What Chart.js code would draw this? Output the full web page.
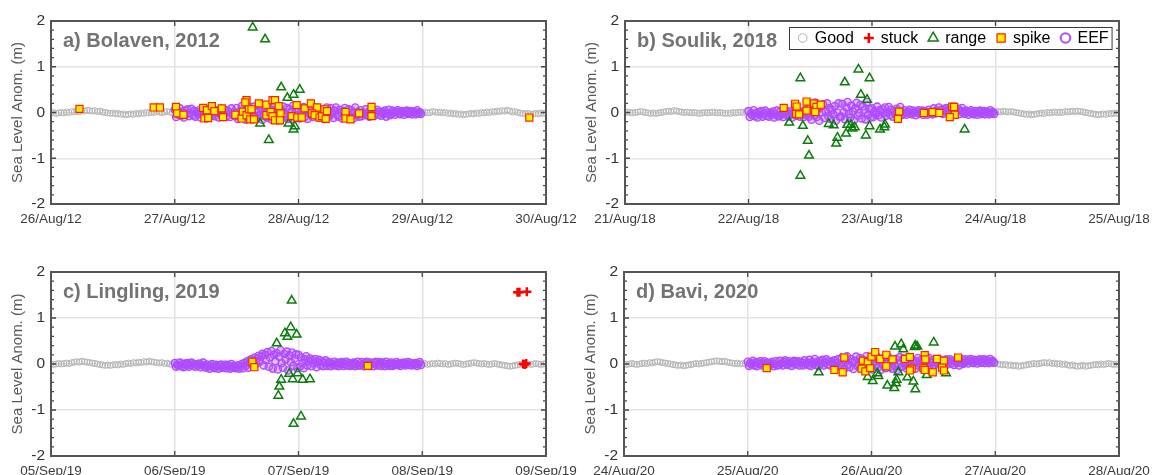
<!DOCTYPE html>
<html>
<head>
<meta charset="utf-8">
<title>Sea level anomaly QC flags</title>
<script src="https://cdn.jsdelivr.net/npm/chart.js@4.4.1/dist/chart.umd.min.js"></script>
<style>
  html, body { margin: 0; padding: 0; background: #fff; }
  body { width: 1156px; height: 475px; position: relative; overflow: hidden; }
  canvas { position: absolute; }
</style>
</head>
<body>
<canvas id="panelA" width="578" height="238" style="left:0;top:0"></canvas>
<canvas id="panelB" width="578" height="238" style="left:578px;top:0"></canvas>
<canvas id="panelC" width="578" height="237" style="left:0;top:238px"></canvas>
<canvas id="panelD" width="578" height="237" style="left:578px;top:238px"></canvas>
<script>
// sampling steps (days); series values typed in cm
var stepGood = 1 / 48;
var stepEEF = 1 / 96;

// tick labels
var ticksA = ['26/Aug/12', '27/Aug/12', '28/Aug/12', '29/Aug/12', '30/Aug/12'];
var ticksB = ['21/Aug/18', '22/Aug/18', '23/Aug/18', '24/Aug/18', '25/Aug/18'];
var ticksC = ['05/Sep/19', '06/Sep/19', '07/Sep/19', '08/Sep/19', '09/Sep/19'];
var ticksD = ['24/Aug/20', '25/Aug/20', '26/Aug/20', '27/Aug/20', '28/Aug/20'];
var yTicks = [-2, -1, 0, 1, 2];

// a) Bolaven 2012 -- good: day 0-1 and 3-4, EEF: day 1-3 (cm)
var goodA1 = [-1,0,-2,-1,0,-1,1,0,2,1,3,2, 4,3,5,4,3,4,2,3,1,0,-1,-2,
  -1,-3,-2,-4,-3,-5,-4,-3,-4,-2,-3,-1, -2,0,-1,1,0,2,1,0,1,2,1,0];
var eefA = [6,-10,0,-5,9,-7,2,-11,4,-3,7,-8, -1,8,-6,3,-9,1,-4,5,-11,-2,8,-7,
  -7,7,-2,-10,3,9,-4,-8,5,-1,-11,2, 8,-6,-3,6,-9,4,0,-10,9,-5,1,-8,
  10,-14,1,-7,14,-10,4,-16,7,-4,11,-11, -1,13,-8,5,-13,2,-5,8,-16,-3,13,-10,
  -11,12,-3,-15,5,15,-6,-12,9,-1,-17,4, 13,-9,-4,10,-14,7,1,-15,15,-7,2,-12,
  8,-13,0,-6,12,-9,3,-14,6,-4,9,-10, -1,11,-7,4,-11,2,-5,7,-14,-2,11,-9,
  -8,9,-2,-12,4,11,-5,-9,6,-1,-13,3, 10,-7,-3,7,-11,5,0,-12,11,-6,1,-9,
  5,-8,0,-4,7,-6,1,-9,3,-3,5,-7, -1,6,-5,2,-7,1,-3,4,-9,-2,6,-6,
  -3,4,0,-5,2,5,-2,-4,3,0,-5,2, 4,-3,-1,3,-4,2,1,-4,5,-2,1,-3];
var goodA2 = [0,1,-1,0,2,1,0,1,-1,0,-2,-1, -3,-2,-4,-3,-5,-4,-3,-2,-3,-1,-2,0,
  -1,1,0,2,1,3,2,4,3,5,3,1, 2,0,-1,-2,-3,-2,-4,-3,-2,-3,-1,-2, -1];
// [day, m]
var rangeA = [[1.63,1.86],[1.73,1.60],[1.86,0.55],[2.01,0.50],[1.96,0.39],[1.91,0.32],
  [1.69,-0.24],[1.76,-0.60],[1.92,-0.24],[1.97,-0.30],[1.96,-0.37]];
var spikeA = [[0.23,0.08],[0.83,0.11],[0.88,0.11],[1.01,0.12],[1.02,-0.02],[1.07,-0.05],
  [1.23,0.10],[1.26,0.05],[1.30,0.14],[1.32,0.03],[1.24,-0.13],[1.27,-0.12],[1.38,0.09],
  [1.39,-0.10],[1.49,-0.05],[1.54,-0.13],[1.55,0.02],[1.58,0.27],[1.57,0.22],[1.58,-0.06],
  [1.60,0.07],[1.61,-0.15],[1.62,0.07],[1.64,-0.15],[1.68,0.20],[1.74,0.17],[1.74,-0.06],
  [1.775,0.01],[1.79,0.27],[1.81,0.27],[1.79,-0.08],[1.81,-0.17],[1.84,0.14],[1.855,-0.02],
  [1.85,-0.17],[1.945,-0.08],[1.985,0.16],[1.99,-0.11],[2.026,-0.11],[2.05,0.09],[2.10,0.20],
  [2.15,0.11],[2.11,-0.02],[2.13,-0.06],[2.17,-0.11],[2.19,-0.08],[2.21,0.07],[2.23,0.03],
  [2.22,-0.14],[2.38,0.01],[2.38,-0.13],[2.42,-0.15],[2.49,-0.02],[2.59,0.12],[2.59,-0.08],
  [3.865,-0.11]];
var stuckA = [];

// b) Soulik 2018
var goodB1 = [0,1,0,-1,0,1,2,1,0,-1,-2,-1, -2,-1,0,1,2,3,2,4,3,2,1,0,
  1,0,-1,0,-1,-2,-1,0,-1,0,1,0, -1,0,-1,-2,-1,-2,0,-1,0,1,0,2];
var eefB = [3,-10,-2,-6,5,-8,-1,-11,1,-5,3,-9, -3,4,-7,0,-9,-1,-5,2,-11,-4,4,-8,
  -8,3,-4,-10,0,5,-5,-9,2,-3,-11,-1, 4,-7,-5,3,-9,1,-2,-10,5,-6,-1,-9,
  16,-16,4,-6,22,-10,8,-18,12,0,18,-12, 2,20,-8,10,-14,6,-4,14,-18,0,20,-10,
  -9,19,1,-15,11,23,-3,-11,15,3,-17,9, 21,-7,-1,17,-13,13,5,-15,23,-5,7,-11,
  9,-10,2,-4,13,-6,5,-11,7,-1,11,-7, 1,12,-5,6,-9,3,-3,8,-11,0,12,-6,
  -4,5,-1,-5,2,6,-2,-4,4,0,-6,2, 5,-3,-1,4,-5,3,1,-5,6,-2,1,-4,
  9,-2,5,1,11,0,6,-3,8,3,10,-1, 4,10,1,7,-2,5,2,8,-3,3,10,0,
  -3,4,0,-5,2,5,-2,-4,3,0,-5,2, 4,-3,-1,3,-4,2,1,-4,5,-2,1,-3];
var goodB2 = [1,2,1,3,2,1,2,1,0,-1,-2,-3, -4,-3,-5,-4,-3,-2,-1,-2,0,-1,0,1,
  0,1,0,2,1,2,3,2,3,2,1,0, -1,-2,-3,-4,-5,-4,-3,-4,-2,-3,-1,-2, -1];
var rangeB = [[1.42,0.75],[1.33,-0.22],[1.44,-0.29],[1.48,-0.62],[1.49,-0.94],[1.42,-1.38],
  [1.78,0.66],[1.89,0.94],[1.98,0.75],[1.91,0.39],[1.96,0.28],[1.65,-0.25],[1.69,-0.28],
  [1.72,-0.55],[1.71,-0.68],[1.79,-0.46],[1.80,-0.27],[1.86,-0.32],[1.84,-0.35],[1.83,-0.27],
  [1.95,-0.50],[1.98,-0.30],[2.065,-0.37],[2.10,-0.32],[2.105,-0.26],[2.75,-0.37]];
var spikeB = [[1.285,0.10],[1.377,0.19],[1.39,0.13],[1.385,-0.03],[1.41,-0.04],[1.47,0.24],
  [1.47,0.04],[1.53,0.20],[1.55,0.12],[1.585,0.17],[1.54,0.01],[2.22,0.02],[2.21,-0.14],
  [2.42,-0.01],[2.49,0.01],[2.545,-0.01],[2.65,0.13],[2.665,0.12],[2.67,-0.05],[2.63,-0.10]];
var stuckB = [];

// c) Lingling 2019
var goodC1 = [0,-1,0,1,0,1,2,1,3,4,5,4, 6,5,4,3,2,1,0,-1,-2,-3,-2,-3,
  -2,-1,-2,0,-1,1,2,1,3,2,4,3, 5,4,6,5,4,3,2,3,1,2,0,-1];
var eefC = [2,-6,-1,-4,3,-5,0,-7,1,-3,2,-6, -2,3,-4,0,-6,-1,-3,1,-7,-2,3,-5,
  -8,-1,-5,-10,-3,0,-7,-9,-2,-5,-10,-3, -1,-8,-6,-2,-9,-2,-4,-10,0,-7,-4,-9,
  -8,-3,-10,-5,0,-9,2,-4,6,-8,3,10, -2,8,14,0,12,18,5,16,22,-3,20,9,
  26,-6,14,28,-10,20,6,24,-12,16,30,2, -8,22,10,27,-14,18,4,25,-4,12,21,-9,
  20,-6,14,2,-9,10,17,-3,6,12,-5,8, 1,11,-7,4,9,-2,6,-5,3,8,-4,2,
  4,-5,1,-2,5,-3,2,-5,3,-1,4,-4, 0,5,-3,2,-4,1,-2,3,-5,-1,5,-3,
  -3,4,0,-5,2,5,-2,-4,3,0,-5,2, 5,-3,-1,4,-4,3,1,-5,5,-2,1,-4,
  3,-4,0,-2,4,-2,1,-4,2,-1,3,-3, 0,4,-2,2,-3,1,-1,2,-4,0,4,-2];
var goodC2 = [0,1,-1,0,1,0,2,1,0,1,-1,0, 1,2,1,0,-1,0,1,2,3,2,1,0,
  1,0,-1,0,1,0,-1,-2,-3,-4,-5,-4, -3,-2,-1,0,1,0,-1,0,1,0,-1,0, 1];
var rangeC = [[1.945,1.38],[1.937,0.80],[1.89,0.67],[1.91,0.59],[1.985,0.64],[1.824,0.45],
  [1.925,-0.21],[1.993,-0.20],[1.86,-0.34],[1.845,-0.49],[1.837,-0.69],[1.953,-0.33],
  [2.034,-0.34],[2.093,-0.33],[2.02,-1.14],[1.96,-1.30]];
var spikeC = [[1.627,0.05],[1.643,-0.07],[2.56,-0.04]];
var stuckC = [[3.77,1.56],[3.785,1.56],[3.845,1.57],[3.815,0.0],[3.83,-0.01],[3.84,0.01]];

// d) Bavi 2020
var goodD1 = [0,-1,0,1,0,-1,0,1,2,1,3,2, 4,5,4,3,2,1,0,-1,-2,-3,-2,-4,
  -3,-2,-1,0,1,0,1,2,3,4,5,6, 7,6,5,6,4,3,2,1,2,0,1,0];
var eefD = [5,-4,2,-1,7,-3,3,-5,4,0,6,-3, 1,6,-2,3,-4,2,-1,5,-5,0,6,-3,
  -2,7,1,-3,4,8,0,-2,6,2,-4,4, 7,-1,1,6,-3,5,3,-3,8,0,3,-2,
  9,-4,4,0,11,-2,5,-5,7,1,9,-3, 3,10,-1,6,-3,5,1,8,-5,2,10,-2,
  -5,14,2,-10,9,17,-1,-7,11,3,-11,7, 16,-4,0,13,-8,10,4,-10,17,-3,6,-7,
  12,-12,4,-4,17,-7,6,-13,10,-1,14,-9, 2,15,-6,8,-10,5,-3,11,-13,0,15,-7,
  -5,12,1,-9,7,14,-2,-6,9,2,-10,6, 13,-4,0,10,-8,8,3,-9,14,-3,4,-6,
  9,-2,5,1,11,0,6,-3,8,3,10,-1, 4,10,1,7,-2,5,2,8,-3,3,10,0,
  3,10,6,1,8,11,4,2,9,6,1,8, 10,3,5,10,2,9,7,2,11,4,7,3];
var goodD2 = [1,0,-1,-2,-1,-3,-2,-4,-3,-5,-4,-3, -2,-1,0,1,0,1,2,3,2,3,1,2,
  0,1,-1,0,-2,-3,-2,-4,-5,-4,-3,-5, -4,-3,-2,-1,-2,0,-1,0,1,0,-1,0, -1];
var rangeD = [[1.573,-0.18],[2.503,0.47],[2.19,0.38],[2.24,0.43],[2.257,0.32],[2.354,0.40],
  [2.37,0.38],[2.35,0.37],[1.97,-0.28],[2.01,-0.37],[2.047,-0.20],[2.055,-0.26],[2.217,-0.18],
  [2.128,-0.47],[2.184,-0.52],[2.198,-0.42],[2.203,-0.34],[2.29,-0.29],[2.338,-0.38],
  [2.354,-0.55],[2.446,-0.24],[2.602,-0.20]];
var spikeD = [[1.153,-0.09],[1.70,-0.13],[1.767,-0.18],[1.78,0.14],[1.93,0.07],[1.97,0.04],
  [2.0,0.16],[2.03,0.26],[2.07,0.11],[2.12,0.20],[2.17,0.10],[2.12,-0.05],[1.92,-0.10],
  [1.95,-0.16],[1.99,-0.09],[2.27,0.11],[2.31,0.15],[2.325,-0.10],[2.31,-0.14],[2.43,0.19],
  [2.435,0.10],[2.42,-0.09],[2.43,-0.13],[2.53,0.11],[2.585,0.07],[2.57,-0.08],[2.585,-0.14],
  [2.495,-0.18],[2.70,0.14]];
var stuckD = [];

var FONT = '"Liberation Sans", Arial, Helvetica, sans-serif';
Chart.defaults.font.family = FONT;

function series(vals, start, stp) {
  return vals.map(function (v, i) { return { x: start + i * stp, y: v / 100 }; });
}
function pts(list) {
  return list.map(function (p) { return { x: p[0], y: p[1] }; });
}

var styles = {
  Good:  { shape: 'circle',   r: 3,   fill: 'rgba(0,0,0,0)', line: '#b4b4b4', lw: 1 },
  stuck: { shape: 'cross',    r: 4.5, fill: 'rgba(0,0,0,0)', line: '#ff0000', lw: 2.5 },
  range: { shape: 'triangle', r: 5,   fill: 'rgba(0,0,0,0)', line: '#0b7d0b', lw: 1.5 },
  spike: { shape: 'rect',     r: 5,   fill: '#ffee00',       line: '#ff2200', lw: 1.2 },
  EEF:   { shape: 'circle',   r: 3.6, fill: 'rgba(176,76,255,0.35)', line: '#b04cff', lw: 1.4 }
};

function ds(label, data, order) {
  var s = styles[label];
  return {
    label: label, data: data, order: order,
    pointStyle: s.shape, pointRadius: s.r, pointHoverRadius: s.r,
    pointBackgroundColor: s.fill, pointBorderColor: s.line, pointBorderWidth: s.lw,
    backgroundColor: s.fill, borderColor: s.line, showLine: false
  };
}

// legend glyphs
function marker(ctx, shape, r, x, y) {
  ctx.beginPath();
  if (shape === 'circle') ctx.arc(x, y, r, 0, 2 * Math.PI);
  else if (shape === 'rect') { var h = r * Math.SQRT1_2; ctx.rect(x - h, y - h, 2 * h, 2 * h); }
  else if (shape === 'triangle') {
    ctx.moveTo(x, y - r); ctx.lineTo(x + r * 0.866, y + r / 2); ctx.lineTo(x - r * 0.866, y + r / 2); ctx.closePath();
  } else { ctx.moveTo(x - r, y); ctx.lineTo(x + r, y); ctx.moveTo(x, y - r); ctx.lineTo(x, y + r); }
  if (shape !== 'cross') ctx.fill();
  ctx.stroke();
}

function drawLegend(ctx, ca) {
  var items = [
    { label: 'Good',  r: 4.3, lw: 1 },
    { label: 'stuck', r: 5,   lw: 2.5 },
    { label: 'range', r: 5.8, lw: 1.5 },
    { label: 'spike', r: 5.8, lw: 1.2 },
    { label: 'EEF',   r: 4.8, lw: 2 }
  ];
  ctx.font = '16px ' + FONT;
  var left = ca.left + 164, top = ca.top + 6, h = 22;
  var cx = left + 13.7, pos = [];
  items.forEach(function (it) {
    var w = ctx.measureText(it.label).width;
    pos.push(cx);
    cx = cx + 12 + w + 15;
  });
  var right = cx - 15 + 3;
  ctx.fillStyle = '#fff';
  ctx.fillRect(left, top, right - left, h);
  ctx.strokeStyle = '#3a3a3a'; ctx.lineWidth = 1;
  ctx.strokeRect(left + 0.5, top + 0.5, right - left, h);
  var cy = top + h / 2;
  items.forEach(function (it, i) {
    var s = styles[it.label];
    ctx.fillStyle = it.label === 'EEF' ? '#fff' : s.fill;
    ctx.strokeStyle = s.line; ctx.lineWidth = it.lw;
    marker(ctx, s.shape, it.r, pos[i], cy);
    ctx.fillStyle = '#000'; ctx.textAlign = 'left'; ctx.textBaseline = 'middle';
    ctx.fillText(it.label, pos[i] + 12, cy + 1);
  });
}

// MATLAB-like box, inward ticks, panel title and y label
var axesDeco = {
  id: 'axesDeco',
  afterDraw: function (chart, args, opts) {
    var ctx = chart.ctx, ca = chart.chartArea, x = chart.scales.x, y = chart.scales.y;
    ctx.save();
    ctx.strokeStyle = '#444'; ctx.lineWidth = 1.3;
    ctx.beginPath();
    for (var d = 1; d < 4; d++) {
      var px = x.getPixelForValue(d);
      ctx.moveTo(px, ca.bottom); ctx.lineTo(px, ca.bottom - 5);
      ctx.moveTo(px, ca.top); ctx.lineTo(px, ca.top + 5);
    }
    for (var k = -9; k <= 9; k++) {
      var py = y.getPixelForValue(k / 5);
      var len = (k % 5 === 0) ? 5 : 3;
      ctx.moveTo(ca.left, py); ctx.lineTo(ca.left + len, py);
      ctx.moveTo(ca.right, py); ctx.lineTo(ca.right - len, py);
    }
    ctx.stroke();
    ctx.lineWidth = 2; ctx.strokeStyle = '#555';
    ctx.strokeRect(ca.left, ca.top, ca.right - ca.left, ca.bottom - ca.top);

    ctx.font = 'bold 20px ' + FONT;
    ctx.fillStyle = '#737373'; ctx.textAlign = 'left'; ctx.textBaseline = 'alphabetic';
    ctx.fillText(opts.title, ca.left + 12, ca.top + 26);

    ctx.save();
    ctx.translate(ca.left - 33, (ca.top + ca.bottom) / 2);
    ctx.rotate(-Math.PI / 2);
    ctx.font = '15px ' + FONT; ctx.fillStyle = '#595959';
    ctx.textAlign = 'center'; ctx.textBaseline = 'middle';
    ctx.fillText('Sea Level Anom. (m)', 0, 0);
    ctx.restore();

    if (opts.legend) drawLegend(ctx, ca);
    ctx.restore();
  }
};

function makePanel(id, title, tickLabels, good1, eef, good2, range, spike, stuck, geo, legend) {
  var gridOpts = { color: '#e3e3e3', lineWidth: 1.5, drawTicks: false };
  return new Chart(document.getElementById(id), {
    type: 'scatter',
    data: {
      datasets: [
        ds('stuck', pts(stuck), 0),
        ds('spike', pts(spike), 1),
        ds('range', pts(range), 2),
        ds('EEF', series(eef, 1, stepEEF), 3),
        ds('Good', series(good1, 0, stepGood).concat(series(good2, 3, stepGood)), 4)
      ]
    },
    options: {
      responsive: false,
      animation: false,
      events: [],
      layout: { padding: { left: 0, top: geo.top, right: geo.right, bottom: 0 } },
      scales: {
        x: {
          type: 'linear', min: 0, max: 4,
          afterBuildTicks: function (s) { s.ticks = [0, 1, 2, 3, 4].map(function (v) { return { value: v }; }); },
          ticks: {
            autoSkip: false, maxRotation: 0, padding: 7, color: '#3c3c3c', font: { size: 13.5 },
            callback: function (v, i) { return tickLabels[i]; }
          },
          grid: gridOpts,
          border: { display: false },
          afterFit: function (s) { s.height = geo.xh; s.paddingLeft = 0; s.paddingRight = 0; }
        },
        y: {
          min: -2, max: 2,
          afterBuildTicks: function (s) { s.ticks = yTicks.map(function (v) { return { value: v }; }); },
          ticks: { padding: 6, color: '#333', font: { size: 15.5 } },
          grid: gridOpts,
          border: { display: false },
          afterFit: function (s) { s.width = geo.yw; s.paddingTop = 0; s.paddingBottom = 0; }
        }
      },
      plugins: {
        legend: { display: false },
        tooltip: { enabled: false },
        axesDeco: { title: title, legend: legend }
      }
    },
    plugins: [axesDeco]
  });
}

makePanel('panelA', 'a) Bolaven, 2012', ticksA, goodA1, eefA, goodA2, rangeA, spikeA, stuckA,
  { yw: 51, top: 21, right: 32, xh: 34 }, false);
makePanel('panelB', 'b) Soulik, 2018', ticksB, goodB1, eefB, goodB2, rangeB, spikeB, stuckB,
  { yw: 47, top: 21, right: 37, xh: 34 }, true);
makePanel('panelC', 'c) Lingling, 2019', ticksC, goodC1, eefC, goodC2, rangeC, spikeC, stuckC,
  { yw: 51, top: 34, right: 32, xh: 19 }, false);
makePanel('panelD', 'd) Bavi, 2020', ticksD, goodD1, eefD, goodD2, rangeD, spikeD, stuckD,
  { yw: 46, top: 34, right: 37, xh: 19 }, false);
</script>
</body>
</html>
